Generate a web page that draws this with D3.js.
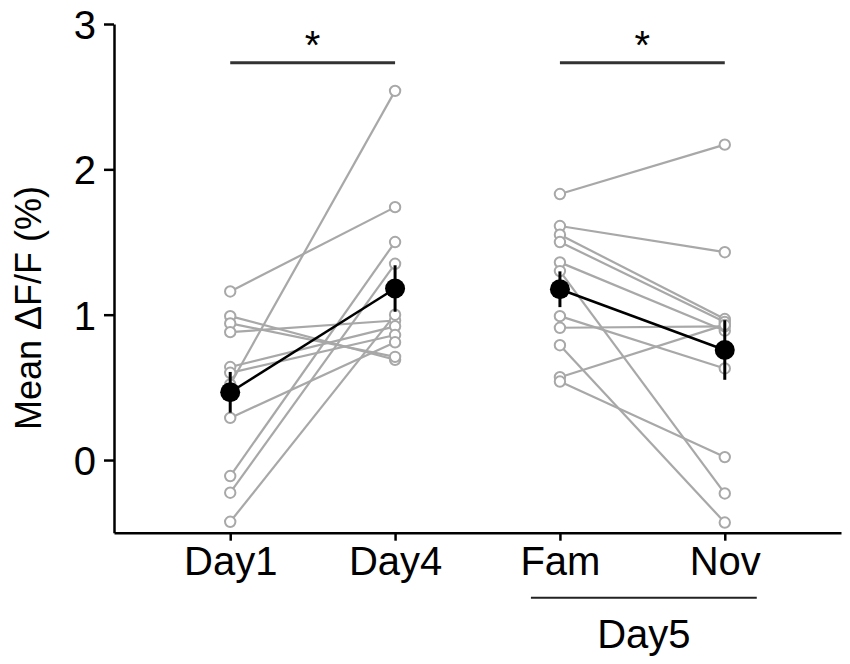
<!DOCTYPE html>
<html>
<head>
<meta charset="utf-8">
<script src="https://cdn.jsdelivr.net/npm/d3@7"></script>
<style>
  body { margin: 0; background: #fff; }
  svg { display: block; font-family: "Liberation Sans", Arial, Helvetica, sans-serif; }
</style>
</head>
<body>
<script>
// categories along the x axis
const categories = ["Day1", "Day4", "Fam", "Nov"];

// individual animals, paired Day1 -> Day4
const day1 = [1.16, 0.99, 0.94, 0.88, 0.64, 0.60, 0.52, 0.29, -0.11, -0.225, -0.425];
const day4 = [1.74, 0.69, 0.71, 0.96, 0.92, 0.86, 2.54, 0.81, 1.50, 1.35, 1.00];

// individual animals, paired Fam -> Nov (Day5)
const fam = [1.83, 1.61, 1.55, 1.50, 1.36, 1.30, 0.99, 0.91, 0.79, 0.57, 0.54];
const nov = [2.17, 1.43, 0.97, 0.95, 0.89, -0.23, 0.63, 0.92, -0.43, 0.93, 0.02];

// group mean and SEM
const means = [0.466, 1.18, 1.175, 0.757];
const sems = [0.14, 0.16, 0.123, 0.205];

const yTicks = [0, 1, 2, 3];
const sigPairs = [["Day1", "Day4"], ["Fam", "Nov"]];
const groupLabel = {text: "Day5", from: "Fam", to: "Nov"};

const width = 850;
const height = 664;

const x = d3.scalePoint()
    .domain(categories)
    .range([114, 841])
    .padding(0.705);

const y = d3.scaleLinear()
    .domain([-0.5, 3])
    .range([532.7, 24]);

const svg = d3.select("body").append("svg")
    .attr("width", width)
    .attr("height", height);

const grey = "#a8a8a8";

// paired lines + open circles
const sessions = [
  {a: "Day1", b: "Day4", va: day1, vb: day4},
  {a: "Fam", b: "Nov", va: fam, vb: nov}
];

const gLines = svg.append("g");
const gDots = svg.append("g");

sessions.forEach(s => {
  const rows = s.va.map((v, i) => [v, s.vb[i]]);

  gLines.selectAll(null)
    .data(rows)
    .join("line")
      .attr("x1", x(s.a))
      .attr("x2", x(s.b))
      .attr("y1", d => y(d[0]))
      .attr("y2", d => y(d[1]))
      .attr("stroke", grey)
      .attr("stroke-width", 2.2);

  [[s.a, s.va], [s.b, s.vb]].forEach(([cat, vals]) => {
    gDots.selectAll(null)
      .data(vals)
      .join("circle")
        .attr("cx", x(cat))
        .attr("cy", d => y(d))
        .attr("r", 5.2)
        .attr("fill", "#fff")
        .attr("stroke", grey)
        .attr("stroke-width", 2);
  });
});

// mean +- sem
const meanData = categories.map((c, i) => ({c, m: means[i], e: sems[i]}));
const gMean = svg.append("g");

[[0, 1], [2, 3]].forEach(([i, j]) => {
  gMean.append("line")
      .attr("x1", x(categories[i]))
      .attr("x2", x(categories[j]))
      .attr("y1", y(means[i]))
      .attr("y2", y(means[j]))
      .attr("stroke", "#000")
      .attr("stroke-width", 2.5);
});

gMean.selectAll(".err")
  .data(meanData)
  .join("line")
    .attr("class", "err")
    .attr("x1", d => x(d.c))
    .attr("x2", d => x(d.c))
    .attr("y1", d => y(d.m - d.e))
    .attr("y2", d => y(d.m + d.e))
    .attr("stroke", "#000")
    .attr("stroke-width", 3);

gMean.selectAll("circle")
  .data(meanData)
  .join("circle")
    .attr("cx", d => x(d.c))
    .attr("cy", d => y(d.m))
    .attr("r", 10)
    .attr("fill", "#000");

// axes
const yAxis = svg.append("g")
    .attr("transform", `translate(${x.range()[0]},0)`)
    .call(d3.axisLeft(y).tickValues(yTicks).tickFormat(d3.format("d"))
      .tickSize(10).tickSizeOuter(0).tickPadding(8));

const xAxis = svg.append("g")
    .attr("transform", `translate(0,${y.range()[0]})`)
    .call(d3.axisBottom(x).tickSize(8).tickSizeOuter(0).tickPadding(6));

[yAxis, xAxis].forEach(g => {
  g.select(".domain").attr("stroke", "#000").attr("stroke-width", 2.5);
  g.selectAll(".tick line").attr("stroke", "#000").attr("stroke-width", 2.5);
  g.selectAll(".tick text")
      .attr("fill", "#000")
      .attr("font-family", "Liberation Sans, Arial, sans-serif")
      .attr("font-size", 40);
});
yAxis.selectAll(".tick text").attr("dy", "0.36em");
xAxis.selectAll(".tick text").attr("dy", "0.72em");

svg.append("text")
    .attr("transform", "translate(41,308) rotate(-90)")
    .attr("text-anchor", "middle")
    .attr("font-size", 36)
    .attr("fill", "#000")
    .text("Mean ΔF/F (%)");

// significance bars
const sigY = 62.7;
sigPairs.forEach(([a, b]) => {
  svg.append("line")
      .attr("x1", x(a))
      .attr("x2", x(b))
      .attr("y1", sigY)
      .attr("y2", sigY)
      .attr("stroke", "#333")
      .attr("stroke-width", 3);
  svg.append("text")
      .attr("x", (x(a) + x(b)) / 2)
      .attr("y", 59)
      .attr("text-anchor", "middle")
      .attr("font-size", 40)
      .attr("fill", "#000")
      .text("*");
});

// Day5 grouping under Fam / Nov
const gx0 = x(groupLabel.from) - 29;
const gx1 = x(groupLabel.to) + 32;
svg.append("line")
    .attr("x1", gx0)
    .attr("x2", gx1)
    .attr("y1", 597.7)
    .attr("y2", 597.7)
    .attr("stroke", "#222")
    .attr("stroke-width", 2);

svg.append("text")
    .attr("x", (gx0 + gx1) / 2)
    .attr("y", 648)
    .attr("text-anchor", "middle")
    .attr("font-size", 40)
    .attr("fill", "#000")
    .text(groupLabel.text);
</script>
</body>
</html>
